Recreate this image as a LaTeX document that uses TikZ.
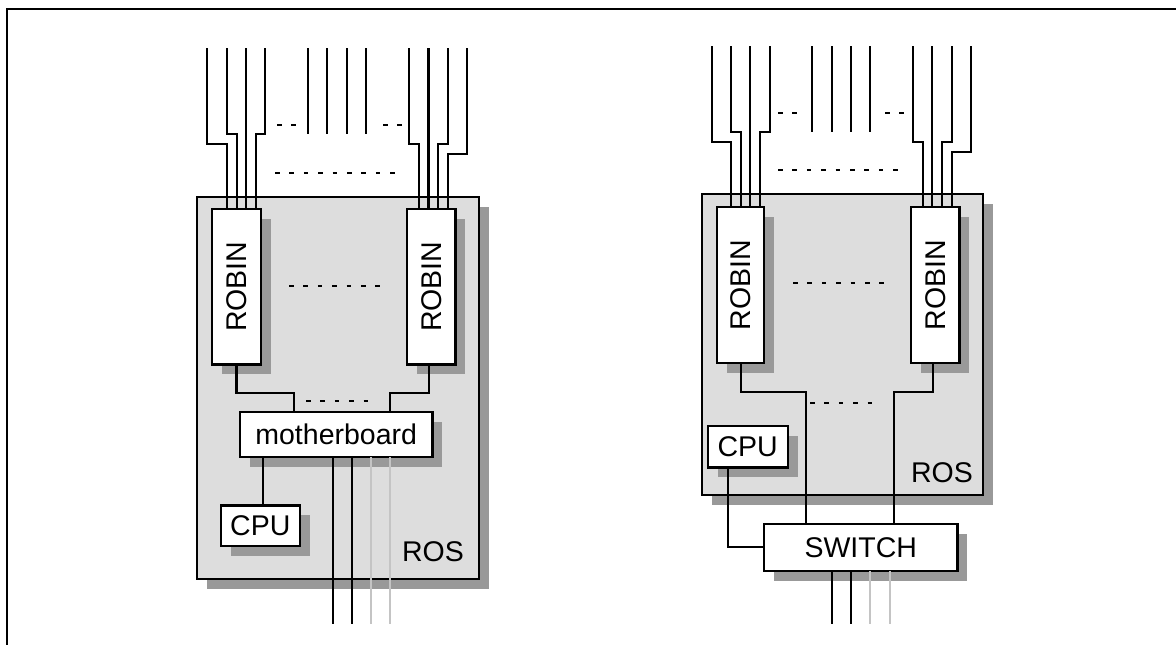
\documentclass[tikz,border=0pt]{standalone}
\usepackage{fontspec}
\setmainfont{Liberation Sans}
\usetikzlibrary{shadows}
\definecolor{rosfill}{HTML}{DDDDDD}
\definecolor{shd}{HTML}{999999}
\definecolor{lightwire}{HTML}{C4C4C4}
\tikzset{
  wire/.style={line width=2.3pt, line cap=butt, line join=miter},
  faint/.style={wire, draw=lightwire},
  dots/.style={line width=2.3pt, dash pattern=on 4.5pt off 9.9pt},
  box/.style={draw, line width=2.3pt, fill=white, inner sep=0pt, outer sep=0pt,
    font=\fontsize{28.5}{33}\selectfont,
    drop shadow={shadow xshift=10pt, shadow yshift=-10pt, opacity=1, fill=shd}},
  rosbox/.style={box, fill=rosfill},
  lbl/.style={font=\fontsize{28.5}{33}\selectfont, inner sep=0pt},
}
\begin{document}
\begin{tikzpicture}[x=1pt,y=-1pt]
\useasboundingbox (0,0) rectangle (1176,645);
\draw[line width=2.5pt] (7,645) -- (7,9) -- (1176,9);

% ---------------- Left diagram ----------------
\node[rosbox, minimum width=282pt, minimum height=382pt] (ros1) at (338.3,387.7) {};
\node[lbl, anchor=base] (ros1l) at (433,561.7) {ROS};
\node[box, minimum width=48.7pt, minimum height=155.3pt] (r1a) at (236.3,286.7) {};
\node[lbl, rotate=90] (r1al) at (r1a.center) {ROBIN};
\node[box, minimum width=48.3pt, minimum height=155.3pt] (r1b) at (431.2,286.7) {};
\node[lbl, rotate=90] (r1bl) at (r1b.center) {ROBIN};

% input fibres
\draw[wire] (207.3,48) |- (226.7,144) -- (226.7,0 |- r1a.north);
\draw[wire] (226.7,48) |- (236.7,134) -- (236.7,0 |- r1a.north);
\draw[wire] (246,48) -- (246,0 |- r1a.north);
\draw[wire] (265.3,48) |- (255.7,134) -- (255.7,0 |- r1a.north);
\draw[wire] (308.3,48) -- (308.3,134);
\draw[wire] (327.3,48) -- (327.3,134);
\draw[wire] (346.7,48) -- (346.7,134);
\draw[wire] (366,48) -- (366,134);
\draw[wire] (409,48) |- (419.3,144) -- (419.3,0 |- r1b.north);
\draw[wire] (428.5,48) -- (428.5,0 |- r1b.north);
\draw[wire] (447.7,48) |- (438,144) -- (438,0 |- r1b.north);
\draw[wire] (467,48) |- (447.7,154) -- (447.7,0 |- r1b.north);

\draw[dots] (277,125) -- (296,125);
\draw[dots] (383,125) -- (402,125);
\draw[dots] (275,173) -- (395.5,173);
\draw[dots] (289,285.7) -- (380,285.7);
\draw[dots] (306,401) -- (377.5,401);

\node[box, minimum width=192.3pt, minimum height=45.6pt] (mb) at (336.2,434.5) {motherboard\hspace{12pt}};
\node[box, minimum width=79.3pt, minimum height=40.7pt] (cpu1) at (260.3,525.7) {CPU};

\draw[wire] (236.5,0 |- r1a.south) |- (294.3,393.3) -- (294.3,0 |- mb.north);
\draw[wire] (428.7,0 |- r1b.south) |- (390,393.3) -- (390,0 |- mb.north);
\draw[wire] (263.3,0 |- mb.south) -- (263.3,0 |- cpu1.north);
\draw[wire] (332.7,0 |- mb.south) -- (332.7,624);
\draw[wire] (352,0 |- mb.south) -- (352,624);
\draw[faint] (371,0 |- mb.south) -- (371,624);
\draw[faint] (390.3,0 |- mb.south) -- (390.3,624);

% ---------------- Right diagram ----------------
\node[rosbox, minimum width=281.6pt, minimum height=301pt] (ros2) at (842.5,344.5) {};
\node[lbl, anchor=base] (ros2l) at (942,482.7) {ROS};
\node[box, minimum width=47.6pt, minimum height=155.4pt] (r2a) at (740.5,285) {};
\node[lbl, rotate=90] (r2al) at (r2a.center) {ROBIN};
\node[box, minimum width=48.3pt, minimum height=155.4pt] (r2b) at (935.2,285) {};
\node[lbl, rotate=90] (r2bl) at (r2b.center) {ROBIN};

\draw[wire] (711.7,46) |- (731,141.7) -- (731,0 |- r2a.north);
\draw[wire] (731,46) |- (740.7,131.7) -- (740.7,0 |- r2a.north);
\draw[wire] (750.3,46) -- (750.3,0 |- r2a.north);
\draw[wire] (769.7,46) |- (759.7,131.7) -- (759.7,0 |- r2a.north);
\draw[wire] (812.3,46) -- (812.3,131.7);
\draw[wire] (831.7,46) -- (831.7,131.7);
\draw[wire] (851,46) -- (851,131.7);
\draw[wire] (870.3,46) -- (870.3,131.7);
\draw[wire] (913,46) |- (922.7,141.7) -- (922.7,0 |- r2b.north);
\draw[wire] (932.3,46) -- (932.3,0 |- r2b.north);
\draw[wire] (951.7,46) |- (942,141.7) -- (942,0 |- r2b.north);
\draw[wire] (971,46) |- (951.7,151.7) -- (951.7,0 |- r2b.north);

\draw[dots] (778,112.7) -- (797,112.7);
\draw[dots] (885,112.7) -- (904,112.7);
\draw[dots] (778,170) -- (898.5,170);
\draw[dots] (793,283.3) -- (884,283.3);
\draw[dots] (810,402.7) -- (881.5,402.7);

\node[box, minimum width=80pt, minimum height=41.3pt] (cpu2) at (747.7,446.7) {CPU};
\node[box, minimum width=193.3pt, minimum height=46.7pt] (sw) at (860.7,547.3) {SWITCH};

\draw[wire] (740.7,0 |- r2a.south) |- (806,391.7) -- (806,0 |- sw.north);
\draw[wire] (932.7,0 |- r2b.south) |- (894,391.7) -- (894,0 |- sw.north);
\draw[wire] (728.3,0 |- cpu2.south) |- (sw.west);
\draw[wire] (832.3,0 |- sw.south) -- (832.3,624);
\draw[wire] (851.3,0 |- sw.south) -- (851.3,624);
\draw[faint] (870.3,0 |- sw.south) -- (870.3,624);
\draw[faint] (889.7,0 |- sw.south) -- (889.7,624);
\end{tikzpicture}
\end{document}
